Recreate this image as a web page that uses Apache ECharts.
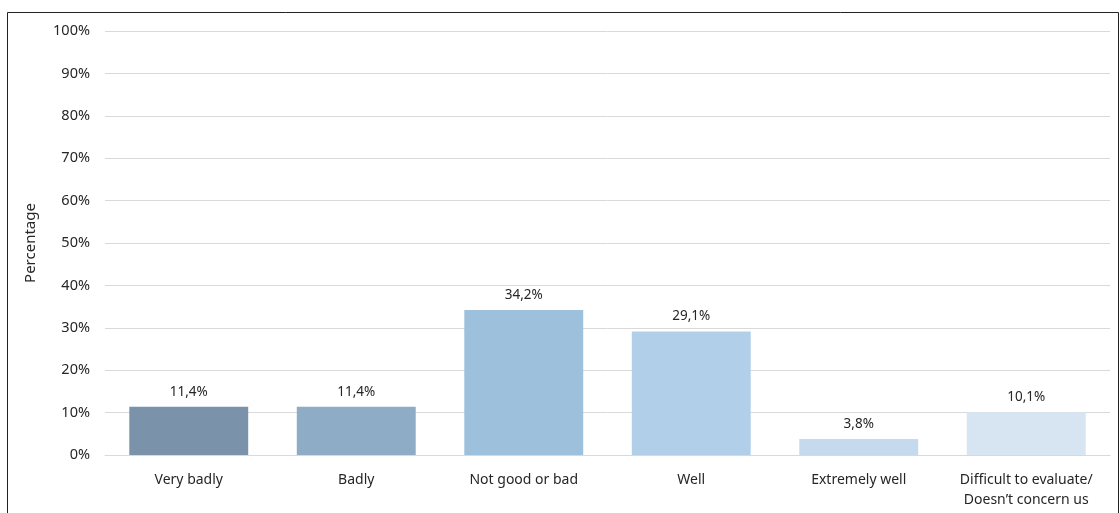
<!DOCTYPE html>
<html><head><meta charset="utf-8">
<script src="https://cdn.jsdelivr.net/npm/echarts@6/dist/echarts.min.js"></script>
<style>html,body{margin:0;padding:0;background:#fff}#c{width:1120px;height:513px}</style>
</head><body><div id="c"></div>
<script>
const categories = ['Very badly','Badly','Not good or bad','Well','Extremely well','Difficult to evaluate/\nDoesn\u2019t concern us'];
const values = [11.4, 11.4, 34.2, 29.1, 3.8, 10.1];
const barColors = ['#7a93aa','#8eacc5','#9dc0dc','#b2cfea','#c5daee','#d7e4f2'];
const yTicks = [0,10,20,30,40,50,60,70,80,90,100];
const FONT = 'Noto Sans';
const chart = echarts.init(document.getElementById('c'));
chart.setOption({
  animation:false,
  textStyle:{fontFamily:FONT},
  graphic:[{type:'rect',shape:{x:7.5,y:12.5,width:1111,height:520},style:{fill:'none',stroke:'#222',lineWidth:1},silent:true,z:-1}],
  grid:{left:105,right:10,top:31,bottom:58,containLabel:false},
  xAxis:{type:'category',data:categories,
    axisLine:{lineStyle:{color:'#d9d9d9'}},axisTick:{show:false},
    axisLabel:{interval:0,hideOverlap:false,color:'#262626',fontSize:14,margin:15,lineHeight:20,fontFamily:FONT}},
  yAxis:{type:'value',min:0,max:100,interval:10,
    name:'Percentage',nameLocation:'middle',nameGap:67,nameRotate:90,
    nameTextStyle:{color:'#262626',fontSize:15,fontFamily:FONT},
    axisLine:{show:false},axisTick:{show:false},
    splitLine:{lineStyle:{color:'#d9d9d9'}},
    axisLabel:{color:'#262626',fontSize:14.5,margin:15,fontFamily:FONT,
      formatter:v=>yTicks.includes(v)?v+'%':''}},
  series:[{type:'bar',barCategoryGap:'29%',
    data:values.map((v,i)=>({value:v,itemStyle:{color:barColors[i]}})),
    label:{show:true,position:'top',distance:8,color:'#262626',fontSize:13.5,fontFamily:FONT,
      formatter:p=>p.value.toFixed(1).replace('.',',')+'%'}}]
});
</script></body></html>
